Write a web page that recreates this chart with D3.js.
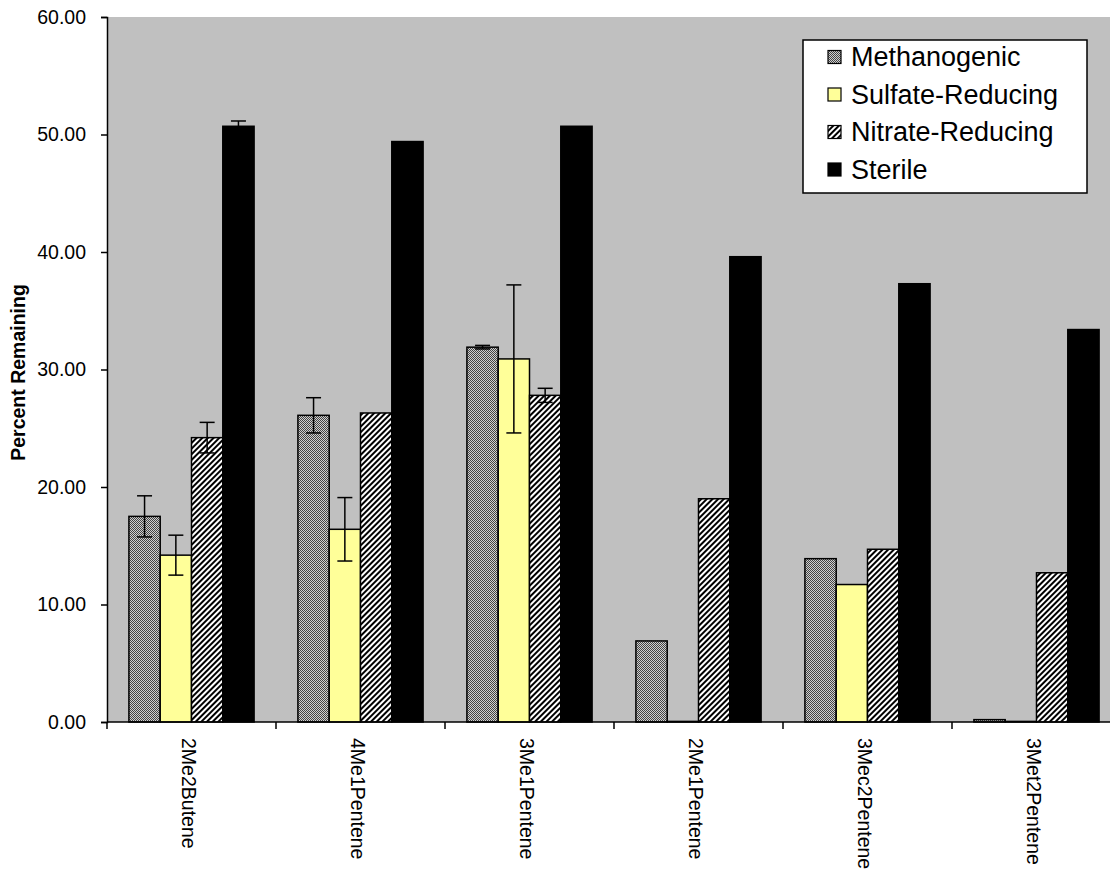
<!DOCTYPE html>
<html>
<head>
<meta charset="utf-8">
<script src="https://cdn.jsdelivr.net/npm/d3@7"></script>
<style>
  body { margin: 0; background: #fff; }
  svg { display: block; font-family: Arial, "Liberation Sans", sans-serif; }
</style>
</head>
<body>
<svg id="chart" width="1110" height="874"></svg>
<script>
// chart data
var categories = ['2Me2Butene', '4Me1Pentene', '3Me1Pentene', '2Me1Pentene', '3Mec2Pentene', '3Met2Pentene'];
var seriesNames = ['Methanogenic', 'Sulfate-Reducing', 'Nitrate-Reducing', 'Sterile'];

var methanogenic = [17.5, 26.1, 31.9, 6.9, 13.9, 0.2];
var sulfate      = [14.2, 16.4, 30.9, 0.05, 11.7, 0.05];
var nitrate      = [24.2, 26.3, 27.8, 19.0, 14.7, 12.7];
var sterile      = [50.7, 49.4, 50.7, 39.6, 37.3, 33.4];

// +/- error amounts
var methanogenicErr = [1.75, 1.5, 0.15, 0, 0, 0];
var sulfateErr      = [1.7, 2.7, 6.3, 0, 0, 0];
var nitrateErr      = [1.3, 0, 0.6, 0, 0, 0];
var sterileErr      = [0.45, 0, 0, 0, 0, 0];

var yTicks = [0, 10, 20, 30, 40, 50, 60];

var values = [methanogenic, sulfate, nitrate, sterile];
var errors = [methanogenicErr, sulfateErr, nitrateErr, sterileErr];
var fills = ['url(#methPat)', '#FFFF99', 'url(#nitPat)', '#000'];

var marginLeft = 107;
var marginTop = 17;
var height = 705;
var width = 1014;

var svg = d3.select('#chart');

// patterns
var defs = svg.append('defs');
var meth = defs.append('pattern')
	.attr('id', 'methPat')
	.attr('patternUnits', 'userSpaceOnUse')
	.attr('width', 2).attr('height', 2);
meth.append('rect').attr('width', 2).attr('height', 2).attr('fill', '#d0d0d0');
meth.append('rect').attr('width', 1).attr('height', 1).attr('fill', '#444');
meth.append('rect').attr('x', 1).attr('y', 1).attr('width', 1).attr('height', 1).attr('fill', '#444');

var nit = defs.append('pattern')
	.attr('id', 'nitPat')
	.attr('patternUnits', 'userSpaceOnUse')
	.attr('width', 4).attr('height', 4)
	.attr('patternTransform', 'rotate(45)');
nit.append('rect').attr('width', 4).attr('height', 4).attr('fill', '#fff');
nit.append('rect').attr('width', 2).attr('height', 4).attr('fill', '#000');

// scales
var x0 = d3.scaleBand()
	.domain(categories)
	.range([0, width]);

var x1 = d3.scaleBand()
	.domain(seriesNames)
	.range([0, x0.bandwidth()])
	.paddingOuter(0.7);

var yScale = d3.scaleLinear()
	.domain([0, 60])
	.range([height, 0]);

var graph = svg.append('g')
	.attr('transform', 'translate(' + marginLeft + ',' + marginTop + ')');

// plot background
graph.append('rect')
	.attr('width', width)
	.attr('height', height)
	.attr('fill', '#C0C0C0');

// bars
seriesNames.forEach(function(name, s) {
	graph.append('g')
		.selectAll('rect')
		.data(values[s])
		.enter()
		.append('rect')
		.attr('x', function(d, i) { return x0(categories[i]) + x1(name); })
		.attr('y', function(d) { return yScale(d); })
		.attr('width', x1.bandwidth())
		.attr('height', function(d) { return height - yScale(d); })
		.attr('fill', fills[s])
		.attr('stroke', '#000')
		.attr('stroke-width', 1.5);
});

// error bars
seriesNames.forEach(function(name, s) {
	var eg = graph.append('g').attr('stroke', '#000').attr('stroke-width', 1.5);
	values[s].forEach(function(v, i) {
		var e = errors[s][i];
		if (!e) return;
		var cx = x0(categories[i]) + x1(name) + x1.bandwidth() / 2;
		eg.append('line')
			.attr('x1', cx).attr('x2', cx)
			.attr('y1', yScale(v + e)).attr('y2', yScale(v - e));
		eg.append('line')
			.attr('x1', cx - 7.5).attr('x2', cx + 7.5)
			.attr('y1', yScale(v + e)).attr('y2', yScale(v + e));
		eg.append('line')
			.attr('x1', cx - 7.5).attr('x2', cx + 7.5)
			.attr('y1', yScale(v - e)).attr('y2', yScale(v - e));
	});
});

// y axis
var yAxis = graph.append('g')
	.call(d3.axisLeft(yScale)
		.tickValues(yTicks)
		.tickFormat(d3.format('.2f'))
		.tickSizeInner(6)
		.tickSizeOuter(6)
		.tickPadding(15));
yAxis.select('.domain').attr('stroke', '#000').attr('stroke-width', 1.5);
yAxis.selectAll('.tick line').attr('stroke', '#000').attr('stroke-width', 1.5);
yAxis.selectAll('text')
	.attr('font-size', 19.5)
	.attr('fill', '#000')
	.attr('font-family', 'Arial, "Liberation Sans", sans-serif');

// x axis: line, ticks at category boundaries, rotated labels
var xg = graph.append('g').attr('transform', 'translate(0,' + height + ')');
xg.append('line')
	.attr('x1', 0).attr('x2', width)
	.attr('stroke', '#000').attr('stroke-width', 1.5);
xg.selectAll('.bt')
	.data(categories)
	.enter()
	.append('line')
	.attr('x1', function(d) { return x0(d); })
	.attr('x2', function(d) { return x0(d); })
	.attr('y1', 0).attr('y2', 7)
	.attr('stroke', '#000').attr('stroke-width', 1.5);
xg.selectAll('text')
	.data(categories)
	.enter()
	.append('text')
	.attr('transform', function(d) {
		return 'translate(' + (x0(d) + x0.bandwidth() / 2 - 3) + ',16) rotate(90)';
	})
	.attr('dy', '0.35em')
	.attr('font-size', 19.5)
	.attr('fill', '#000')
	.text(function(d) { return d; });

// y title
svg.append('text')
	.attr('transform', 'translate(18,' + (marginTop + yScale(30) + 3) + ') rotate(-90)')
	.attr('text-anchor', 'middle')
	.attr('dy', '0.35em')
	.attr('font-size', 19.5)
	.attr('font-weight', 'bold')
	.text('Percent Remaining');

// legend
var legend = svg.append('g').attr('transform', 'translate(803,40)');
legend.append('rect')
	.attr('width', 284)
	.attr('height', 153)
	.attr('fill', '#fff')
	.attr('stroke', '#000')
	.attr('stroke-width', 1.5);
var items = legend.selectAll('.item')
	.data(seriesNames)
	.enter()
	.append('g')
	.attr('transform', function(d, i) { return 'translate(0,' + (17 + i * 37.5) + ')'; });
items.append('rect')
	.attr('x', 25).attr('y', -6.5)
	.attr('width', 13).attr('height', 13)
	.attr('fill', function(d, i) { return fills[i]; })
	.attr('stroke', '#000')
	.attr('stroke-width', 1.2);
items.append('text')
	.attr('x', 48)
	.attr('dy', '0.35em')
	.attr('font-size', 27)
	.attr('fill', '#000')
	.text(function(d) { return d; });
</script>
</body>
</html>
